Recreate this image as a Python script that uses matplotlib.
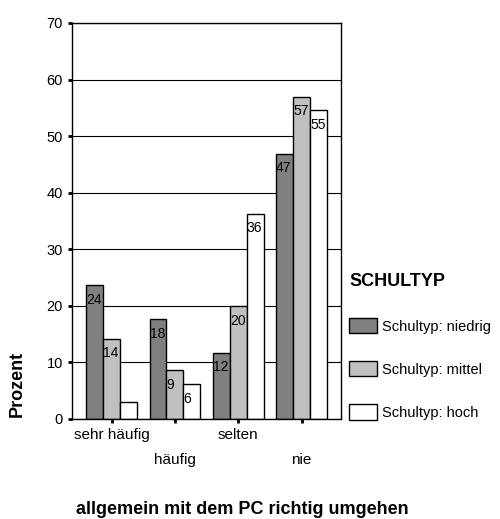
import numpy as np
import matplotlib
matplotlib.use('Agg')
import matplotlib.pyplot as plt

plt.rcParams['font.family'] = ['Liberation Sans', 'DejaVu Sans']

# Daten (Prozent je Schultyp)
categories = ['sehr häufig', 'häufig', 'selten', 'nie']
series_names = ['Schultyp: niedrig', 'Schultyp: mittel', 'Schultyp: hoch']
niedrig = [23.6, 17.6, 11.7, 46.9]
mittel = [14.2, 8.6, 19.9, 57.0]
hoch = [3.0, 6.1, 36.3, 54.6]
yticks = [0, 10, 20, 30, 40, 50, 60, 70]

colors = ['#808080', '#c0c0c0', '#ffffff']

fig = plt.figure(figsize=(5.0, 5.19), dpi=100, facecolor='white')
ax = fig.add_axes([0.144, 0.1927, 0.538, 0.763])

x = np.arange(len(categories))
w = 0.268
for k, vals in enumerate([niedrig, mittel, hoch]):
    pos = x + (k - 1) * w
    ax.bar(pos, vals, width=w, color=colors[k], edgecolor='black',
           linewidth=1, label=series_names[k], zorder=2)
    for p, v in zip(pos, vals):
        if v < 5:
            continue  # zu kurz fuer eine Beschriftung
        ax.annotate('%d' % int(np.floor(v + 0.5)), (p - w / 2, v),
                    xytext=(0, -5.5), textcoords='offset points',
                    ha='left', va='top', fontsize=10, zorder=3)

ax.set_xlim(-0.627, 3.623)
ax.set_ylim(0, 70)
ax.set_yticks(yticks)
ax.yaxis.grid(True, color='black', linewidth=0.8)
ax.set_axisbelow(True)
for s in ax.spines.values():
    s.set_color('black')
    s.set_linewidth(1)

ax.set_xticks(x)
ax.set_xticklabels(categories, fontsize=11)
ax.tick_params(axis='y', direction='out', length=3, width=2, pad=3.5, labelsize=10.5)
ax.tick_params(axis='x', direction='out', length=3, width=2, pad=3.5)
# versetzte Beschriftung
for i, t in enumerate(ax.xaxis.get_major_ticks()):
    if i % 2 == 1:
        t.set_pad(21.5)

fig.text(17 / 500, 1 - 384 / 519, 'Prozent', rotation=90, ha='center', va='center',
         fontsize=13, fontweight='bold')
fig.text(242 / 500, 1 - 510 / 519, 'allgemein mit dem PC richtig umgehen',
         ha='center', va='center', fontsize=13, fontweight='bold')

leg = fig.legend(loc='upper left', bbox_to_anchor=(342 / 500, 1 - 266 / 519),
                 bbox_transform=fig.transFigure, frameon=False, fontsize=10.5,
                 title='SCHULTYP', title_fontproperties={'weight': 'bold', 'size': 13},
                 alignment='left', borderpad=0, handlelength=1.92, handleheight=1.23,
                 handletextpad=0.35, labelspacing=1.9)

fig.savefig('out.png', dpi=100)
